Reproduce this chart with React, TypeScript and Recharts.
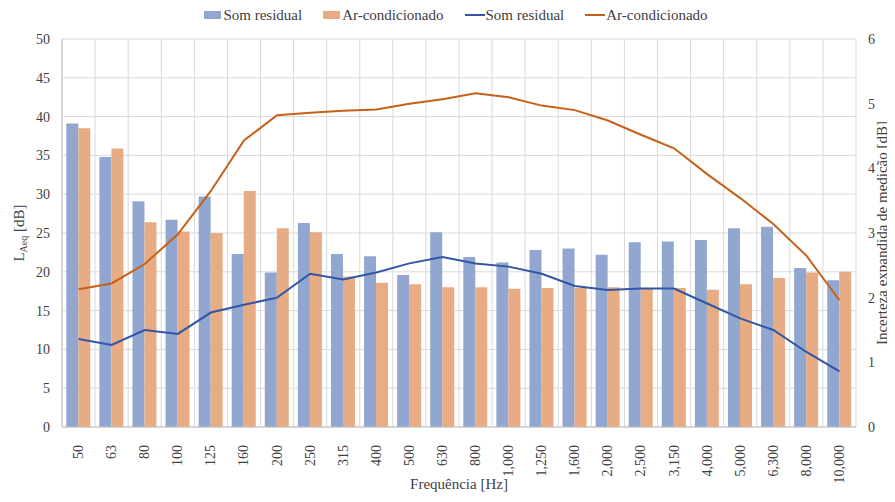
import React from "react";
import {
  ComposedChart,
  Bar,
  Line,
  XAxis,
  YAxis,
  CartesianGrid,
  Legend,
} from "recharts";

const frequencies = [
  "50", "63", "80", "100", "125", "160", "200", "250", "315", "400", "500", "630",
  "800", "1,000", "1,250", "1,600", "2,000", "2,500", "3,150", "4,000", "5,000",
  "6,300", "8,000", "10,000",
];

// L_Aeq [dB] (left axis)
const residualLevel = [
  39.1, 34.8, 29.1, 26.7, 29.7, 22.3, 19.9, 26.3, 22.3, 22.0, 19.6, 25.1,
  21.9, 21.2, 22.8, 23.0, 22.2, 23.8, 23.9, 24.1, 25.6, 25.8, 20.5, 18.9,
];
const acLevel = [
  38.5, 35.9, 26.4, 25.2, 25.0, 30.4, 25.6, 25.1, 19.4, 18.6, 18.4, 18.0,
  18.0, 17.8, 17.9, 17.9, 18.0, 17.9, 17.9, 17.7, 18.4, 19.2, 19.9, 20.0,
];

// expanded uncertainty [dB] (right axis)
const residualUnc = [
  1.36, 1.27, 1.5, 1.44, 1.77, 1.89, 2.0, 2.37, 2.28, 2.39, 2.53, 2.63,
  2.53, 2.48, 2.37, 2.18, 2.12, 2.14, 2.14, 1.91, 1.68, 1.5, 1.16, 0.86,
];
const acUnc = [
  2.13, 2.22, 2.52, 2.98, 3.65, 4.43, 4.82, 4.86, 4.89, 4.91, 5.0, 5.07,
  5.16, 5.1, 4.97, 4.9, 4.74, 4.52, 4.31, 3.91, 3.54, 3.14, 2.65, 1.96,
];

const leftTicks = [0, 5, 10, 15, 20, 25, 30, 35, 40, 45, 50];
const rightTicks = [0, 1, 2, 3, 4, 5, 6];

const legendOrder = ["resBar", "acBar", "resLine", "acLine"];

const data = frequencies.map((f, i) => ({
  freq: f,
  resBar: residualLevel[i],
  acBar: acLevel[i],
  resLine: residualUnc[i],
  acLine: acUnc[i],
}));

const FONT = "Liberation Serif, DejaVu Serif, serif";
const TEXT = "#404040";

const BLUE_BAR = "#91a7cf";
const ORANGE_BAR = "#e7ac84";
const BLUE_LINE = "#3355a5";
const ORANGE_LINE = "#c7611a";

const FreqTick = (props: any) => {
  const { x, y, payload } = props;
  const ty = y + 10;
  return (
    <text
      x={x}
      y={ty}
      transform={`rotate(-90, ${x}, ${ty})`}
      textAnchor="end"
      dominantBaseline="central"
      style={{ fontSize: 14, fontFamily: FONT, fill: TEXT }}
    >
      {payload.value}
    </text>
  );
};

const LegendContent = (props: any) => {
  const items = [...(props.payload || [])].sort(
    (a: any, b: any) => legendOrder.indexOf(a.dataKey) - legendOrder.indexOf(b.dataKey)
  );
  return (
    <div
      style={{
        display: "flex",
        justifyContent: "center",
        height: 20,
        alignItems: "center",
        paddingLeft: 30,
        fontFamily: FONT,
        fontSize: 15,
        color: TEXT,
      }}
    >
      {items.map((it: any, i: number) => (
        <div key={i} style={{ display: "flex", alignItems: "center", marginRight: 21 }}>
          {it.type === "plainline" ? (
            <span style={{ width: 20, height: 2, background: it.color, marginRight: 1 }} />
          ) : (
            <span style={{ width: 17, height: 8, background: it.color, marginRight: 2 }} />
          )}
          <span>{it.value}</span>
        </div>
      ))}
    </div>
  );
};

const LeftLabel = (props: any) => {
  const { viewBox } = props;
  const cx = 11;
  const cy = viewBox.y + viewBox.height / 2;
  return (
    <text
      x={cx}
      y={cy}
      transform={`rotate(-90, ${cx}, ${cy})`}
      textAnchor="middle"
      dominantBaseline="central"
      style={{ fontSize: 15, fontFamily: FONT, fill: TEXT }}
    >
      L
      <tspan fontSize={10} dy={4}>Aeq</tspan>
      <tspan dy={-4}> [dB]</tspan>
    </text>
  );
};

const RightLabel = (props: any) => {
  const { viewBox } = props;
  const cx = viewBox.x + 26;
  const cy = viewBox.y + viewBox.height / 2;
  return (
    <text
      x={cx}
      y={cy}
      transform={`rotate(-90, ${cx}, ${cy})`}
      textAnchor="middle"
      dominantBaseline="central"
      style={{ fontSize: 15, fontFamily: FONT, fill: TEXT }}
    >
      Incerteza expandida de medição [dB]
    </text>
  );
};

const BottomLabel = (props: any) => {
  const { viewBox } = props;
  return (
    <text
      x={viewBox.x + viewBox.width / 2}
      y={viewBox.y + viewBox.height - 5}
      textAnchor="middle"
      style={{ fontSize: 15, fontFamily: FONT, fill: TEXT }}
    >
      Frequência [Hz]
    </text>
  );
};

export default function App() {
  const tickStyle = { fontSize: 14, fontFamily: FONT, fill: TEXT };
  return (
    <div style={{ fontFamily: FONT }}>
      <ComposedChart
        width={887}
        height={486}
        data={data}
        margin={{ top: 11, right: 0, bottom: 0, left: 0 }}
        barCategoryGap="13%"
        barGap={0}
        style={{ fontFamily: FONT, overflow: "visible" }}
      >
        <CartesianGrid
          yAxisId="left"
          stroke="#d9d9d9"
          verticalCoordinatesGenerator={({ offset }: any) =>
            frequencies
              .map((_, i) => offset.left + (i * offset.width) / frequencies.length)
              .concat(offset.left + offset.width)
          }
        />
        <XAxis
          dataKey="freq"
          interval={0}
          height={67}
          tick={<FreqTick />}
          tickLine={false}
          axisLine={{ stroke: "#bfbfbf" }}
          label={<BottomLabel />}
        />
        <YAxis
          yAxisId="left"
          width={54}
          domain={[0, 50]}
          ticks={leftTicks}
          tickLine={false}
          tickSize={0}
          tickMargin={12}
          axisLine={{ stroke: "#bfbfbf" }}
          tick={tickStyle}
          label={<LeftLabel />}
        />
        <YAxis
          yAxisId="right"
          orientation="right"
          width={39}
          domain={[0, 6]}
          ticks={rightTicks}
          tickLine={false}
          tickSize={0}
          tickMargin={12}
          axisLine={false}
          tick={{ ...tickStyle, textAnchor: "start" }}
          label={<RightLabel />}
        />
        <Legend
          verticalAlign="top"
          align="center"
          wrapperStyle={{ top: -3 }}
          content={<LegendContent />}
        />
        <Bar yAxisId="left" dataKey="resBar" name="Som residual" fill={BLUE_BAR} legendType="rect" isAnimationActive={false} />
        <Bar yAxisId="left" dataKey="acBar" name="Ar-condicionado" fill={ORANGE_BAR} legendType="rect" isAnimationActive={false} />
        <Line yAxisId="right" type="linear" dataKey="resLine" name="Som residual" stroke={BLUE_LINE} strokeWidth={2} dot={false} legendType="plainline" isAnimationActive={false} />
        <Line yAxisId="right" type="linear" dataKey="acLine" name="Ar-condicionado" stroke={ORANGE_LINE} strokeWidth={2} dot={false} legendType="plainline" isAnimationActive={false} />
      </ComposedChart>
    </div>
  );
}
